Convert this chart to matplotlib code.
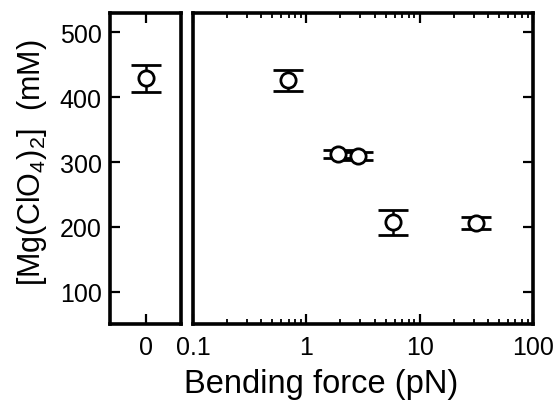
import matplotlib
matplotlib.use("Agg")
import matplotlib.pyplot as plt

plt.rcParams['font.family'] = ['Liberation Sans', 'DejaVu Sans']
plt.rcParams['mathtext.fontset'] = 'custom'
plt.rcParams['mathtext.rm'] = 'Liberation Sans'
plt.rcParams['mathtext.it'] = 'Liberation Sans'

# Zero-force reference measurement
zero_force = [0]
zero_conc = [429]
zero_err = [21]

# Bending force series (pN) and [Mg(ClO4)2] (mM)
force = [0.69, 1.92, 2.84, 5.79, 31.3]
conc = [426, 312, 309, 207, 206]
conc_err = [16, 6.5, 6, 19, 9]

y_ticks = [100, 200, 300, 400, 500]
x_ticks = [0.1, 1, 10, 100]
x_tick_labels = ['0.1', '1', '10', '100']

W, H = 556, 402
fig = plt.figure(figsize=(W / 100, H / 100), dpi=100)

bottom = 1 - 325 / H
height = (325 - 14) / H
ax0 = fig.add_axes([110 / W, bottom, (181 - 110) / W, height])
ax1 = fig.add_axes([193 / W, bottom, (533 - 193) / W, height])

ekw = dict(fmt='o', ms=11, mfc='white', mec='black', mew=2.0,
           ecolor='black', elinewidth=1.8, capsize=10.5, capthick=1.9,
           zorder=3)

ax0.errorbar(zero_force, zero_conc, yerr=zero_err, **ekw)
ax1.errorbar(force, conc, yerr=conc_err, **ekw)

for ax in (ax0, ax1):
    ax.set_ylim(50, 530)
    for s in ax.spines.values():
        s.set_linewidth(2.6)

# Left panel: linear x with a single tick at zero
ax0.set_xlim(-1, 1)
ax0.set_xticks([0])
ax0.set_yticks(y_ticks)
ax0.tick_params(axis='both', direction='in', length=7, width=1.6,
                labelsize=18, top=True, right=False)
ax0.tick_params(axis='x', pad=8)
ax0.tick_params(axis='y', pad=6)

# Right panel: logarithmic force axis
ax1.set_xscale('log')
ax1.set_xlim(0.1, 100)
ax1.set_xticks(x_ticks)
ax1.set_xticklabels(x_tick_labels)
ax1.set_yticks(y_ticks)
ax1.tick_params(axis='both', which='major', direction='in', length=7,
                width=1.6, labelsize=18, top=True, right=True, left=False,
                labelleft=False)
ax1.tick_params(axis='x', which='minor', direction='in', length=3.5,
                width=1.3, top=True, bottom=True)
ax1.tick_params(axis='x', pad=8)

fig.text(321.5 / W, 1 - 393 / H, 'Bending force (pN)', ha='center',
         va='baseline', fontsize=23.5)
fig.text(32 / W, 1 - 163 / H, r'[Mg(ClO$_4$)$_2$]  (mM)', ha='center',
         va='center', rotation=90, fontsize=22)

fig.savefig('out.png', dpi=100)
